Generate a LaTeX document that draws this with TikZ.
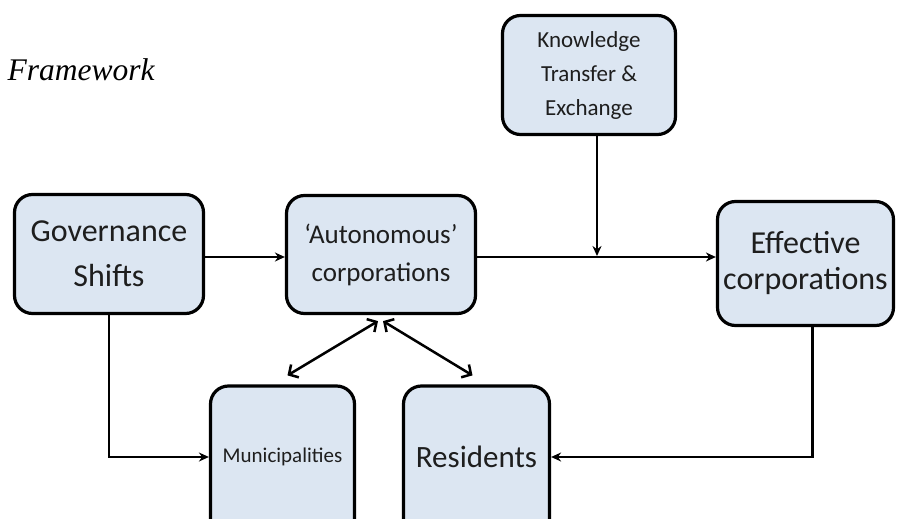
\documentclass[tikz,border=0pt]{standalone}
\usepackage{fontspec}
\usepackage{xcolor}
\usepackage{tikz}
\usetikzlibrary{arrows.meta}

\newfontfamily\boxfont{Carlito}
\newfontfamily\titlefont{Liberation Serif}
\definecolor{boxblue}{RGB}{220,230,242}
\definecolor{boxtext}{RGB}{30,30,30}

\begin{document}
\begin{tikzpicture}[x=1pt, y=-1pt,
    box/.style={draw=black, fill=boxblue, line width=3.2pt, rounded corners=18pt,
      align=center, text=boxtext, inner sep=0pt},
    arr/.style={line width=2.5pt, -{Stealth[length=10pt,width=9pt]}},
    twoway/.style={line width=2.5pt,
      {Straight Barb[length=7pt,width=15pt]}-{Straight Barb[length=7pt,width=15pt]}}]
	\useasboundingbox (0,0) rectangle (897,519);
	\clip (0,0) rectangle (897,519);

	\node[anchor=base west, font=\titlefont\itshape\fontsize{31.5}{36}\selectfont] (title) at (4,81) {Framework};

	% boxes
	\node[box, minimum width=189pt, minimum height=119pt, font=\boxfont\fontsize{32}{45}\selectfont] (gov) at (109,254) {Governance\\Shifts};
	\node[box, minimum width=189pt, minimum height=118pt, font=\boxfont\fontsize{27}{38}\selectfont] (auto) at (381,254.5) {‘Autonomous’\\corporations};
	\node[box, minimum width=173pt, minimum height=119pt, font=\boxfont\fontsize{23}{34}\selectfont] (know) at (589,75) {Knowledge\\Transfer \&\\Exchange};
	\node[box, minimum width=176pt, minimum height=124pt, font=\boxfont\fontsize{32}{36}\selectfont] (eff) at (805.5,263.5) {Effective\\corporations};
	\node[box, minimum width=144pt, minimum height=174pt,
	      label={[name=munitext, text=boxtext, font=\boxfont\fontsize{21}{24}\selectfont, yshift=16pt]center:Municipalities}] (muni) at (282.5,473) {};
	\node[box, minimum width=146pt, minimum height=174pt,
	      label={[name=restext, text=boxtext, font=\boxfont\fontsize{31}{36}\selectfont, yshift=16pt]center:Residents}] (res) at (476.5,473) {};

	% connectors
	\coordinate (merge) at (597,257);
	\draw[arr] (gov.east |- merge) -- (auto.west |- merge);
	\draw[arr] (auto.east |- merge) -- (eff.west |- merge);
	\draw[arr, shorten >=1pt] (know.south -| merge) -- (merge);
	\draw[arr] (gov.south) |- (muni.west |- munitext);
	\draw[arr] ([xshift=7pt]eff.south) |- (res.east |- restext);
	\draw[twoway] ([xshift=-3pt,yshift=-6pt]auto.south) -- ([xshift=5pt,yshift=9pt]muni.north);
	\draw[twoway] ([xshift=2pt,yshift=-6pt]auto.south) -- ([xshift=-4pt,yshift=9pt]res.north);
\end{tikzpicture}
\end{document}
